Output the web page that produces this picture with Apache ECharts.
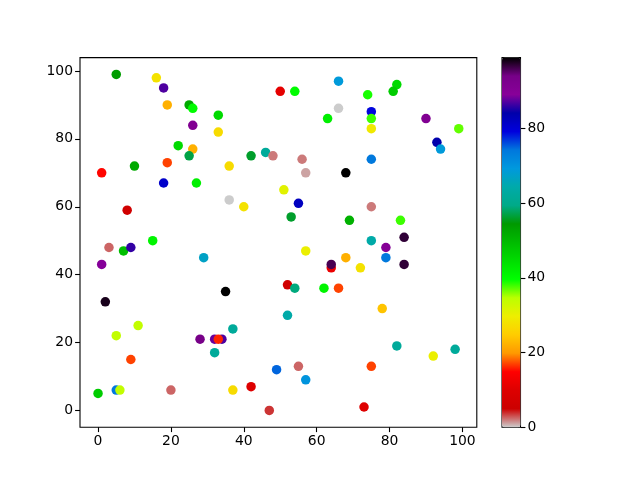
<!DOCTYPE html>
<html>
<head>
<meta charset="utf-8">
<title>scatter</title>
<script src="https://cdn.jsdelivr.net/npm/echarts@6/dist/echarts.min.js"></script>
<style>
  html, body { margin: 0; padding: 0; background: #fff; }
  #chart { width: 640px; height: 480px; }
</style>
</head>
<body>
<div id="chart"></div>
<script>
// point data: x, y and colour value
const xs = [5, 16, 18, 19, 25, 26, 33, 26, 33, 22, 26, 25, 19, 10, 1, 18, 27, 42, 46, 48, 36, 36, 40, 8, 50,
  54, 66, 74, 82, 81, 66, 63, 75, 75, 75, 90, 99, 93, 94, 56, 57, 68, 75, 51, 55, 53, 69, 83, 75, 75, 84,
  3, 7, 9, 15, 1, 29, 2, 35, 11, 5, 37, 28, 32, 34, 33, 32, 9, 49, 0, 5, 6, 20, 37, 42, 47,
  79, 57, 68, 79, 64, 64, 72, 84, 52, 54, 62, 66, 78, 52, 82, 92, 98, 55, 57, 75, 73]
const ys = [99, 98, 95, 90, 90, 89, 87, 84, 82, 78, 77, 75, 73, 72, 70, 67, 67, 75, 76, 75, 72, 62, 60, 59, 94,
  94, 97, 93, 96, 94, 89, 86, 88, 86, 83, 86, 83, 79, 77, 74, 70, 70, 74, 65, 61, 57, 56, 56, 60, 50, 51,
  48, 47, 48, 50, 43, 45, 32, 35, 25, 22, 24, 21, 21, 21, 21, 17, 15, 12, 5, 6, 6, 6, 6, 7, 0,
  48, 47, 45, 45, 42, 43, 42, 43, 37, 36, 36, 36, 30, 28, 19, 16, 18, 13, 9, 13, 1]
const cs = [54, 28, 87, 22, 52, 40, 45, 91, 27, 45, 22, 57, 17, 52, 15, 81, 42, 56, 62, 2, 27, 0, 28, 6, 11,
  40, 69, 39, 45, 47, 0, 42, 79, 38, 29, 91, 37, 84, 69, 2, 1, 99, 74, 31, 82, 56, 51, 38, 2, 64, 97,
  2.5, 49, 86, 41, 89, 67, 98, 99, 34, 34, 62, 94, 88, 87, 16, 62, 17, 75, 47, 74, 34, 2.5, 27, 10, 3.7,
  90, 30, 22, 74, 12, 96, 28, 97, 6, 59, 41, 17, 24, 64, 62, 30, 62, 2.5, 70, 17, 10]

// colour scale, low to high
const colorStops = ['#cccccc', '#cc0000', '#dd0000', '#ff0000', '#ff9900', '#ffcc00', '#eeee00', '#bbff00',
  '#00ff00', '#00dd00', '#00bb00', '#009900', '#00aa88', '#00aaaa', '#0099dd', '#0077dd', '#0000dd',
  '#0000aa', '#880099', '#770088', '#000000']

const axisTicks = [0, 20, 40, 60, 80, 100]
const barTicks = [0, 20, 40, 60, 80]

const points = xs.map((x, i) => [x, ys[i], cs[i]])

const font = { fontFamily: 'DejaVu Sans', fontSize: 13.9, color: '#000' }
const tick = { show: true, length: 4.9, lineStyle: { color: '#000', width: 1.1 } }

const option = {
  animation: false,
  grid: [
    { left: 80, right: 163.2, top: 57.6, bottom: 52.8, show: true, borderColor: '#000', borderWidth: 1.1, backgroundColor: 'transparent' },
    { left: 502, width: 18.5, top: 57.6, height: 369.6, show: true, borderColor: '#000', borderWidth: 1.1, backgroundColor: 'transparent' }
  ],
  xAxis: [
    {
      type: 'value',
      gridIndex: 0,
      min: -4.95,
      max: 103.95,
      splitLine: { show: false },
      axisLine: { show: false, onZero: false },
      axisTick: Object.assign({ customValues: axisTicks }, tick),
      axisLabel: Object.assign({ margin: 7, customValues: axisTicks }, font)
    },
    { type: 'value', gridIndex: 1, show: false, min: 0, max: 1 }
  ],
  yAxis: [
    {
      type: 'value',
      gridIndex: 0,
      min: -4.95,
      max: 103.95,
      splitLine: { show: false },
      axisLine: { show: false, onZero: false },
      axisTick: Object.assign({ customValues: axisTicks }, tick),
      axisLabel: Object.assign({ margin: 7, customValues: axisTicks }, font)
    },
    {
      type: 'value',
      gridIndex: 1,
      position: 'right',
      min: 0,
      max: 99,
      splitLine: { show: false },
      axisLine: { show: false, onZero: false },
      axisTick: Object.assign({ customValues: barTicks }, tick),
      axisLabel: Object.assign({ margin: 7, customValues: barTicks }, font)
    }
  ],
  visualMap: {
    type: 'continuous',
    seriesIndex: 0,
    dimension: 2,
    min: 0,
    max: 99,
    left: 502,
    top: 57.6,
    padding: 0,
    itemWidth: 18.5,
    itemHeight: 369.6,
    calculable: false,
    hoverLink: false,
    text: null,
    showLabel: false,
    inRange: { color: colorStops }
  },
  series: [{
    type: 'scatter',
    xAxisIndex: 0,
    yAxisIndex: 0,
    symbolSize: 9.5,
    itemStyle: { opacity: 1 },
    data: points
  }]
}

const myChart = echarts.init(document.getElementById('chart'), null, { renderer: 'canvas' })
myChart.setOption(option)
</script>
</body>
</html>
